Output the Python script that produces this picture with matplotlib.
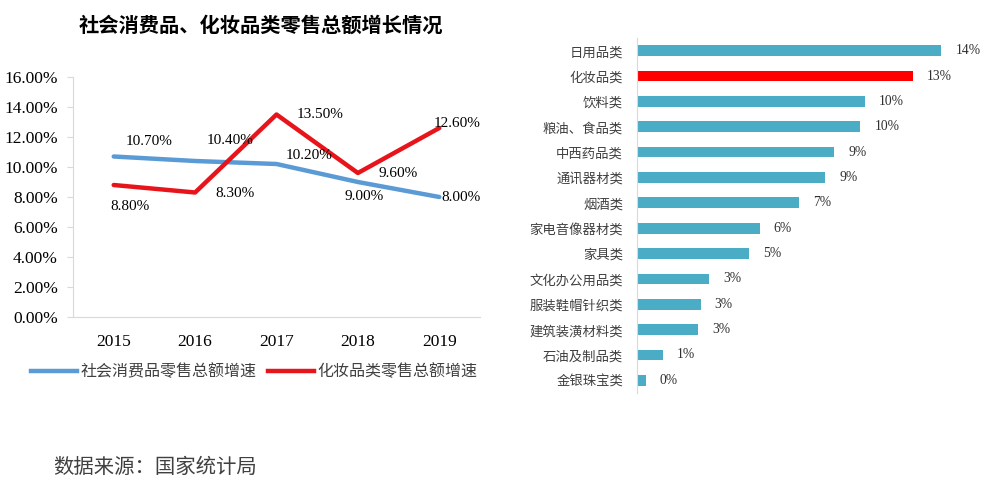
import matplotlib
matplotlib.use("Agg")
import matplotlib.pyplot as plt
from matplotlib.lines import Line2D

years = ["2015", "2016", "2017", "2018", "2019"]
retail_growth = [10.7, 10.4, 10.2, 9.0, 8.0]
cosmetics_growth = [8.8, 8.3, 13.5, 9.6, 12.6]

categories = ["日用品类", "化妆品类", "饮料类", "粮油、食品类", "中西药品类", "通讯器材类",
              "烟酒类", "家电音像器材类", "家具类", "文化办公用品类", "服装鞋帽针织类",
              "建筑装潢材料类", "石油及制品类", "金银珠宝类"]
category_growth = [13.9, 12.6, 10.4, 10.2, 9.0, 8.6, 7.4, 5.6, 5.1, 3.3, 2.9, 2.8, 1.2, 0.4]

CJK = ["Noto Sans CJK SC", "DejaVu Sans"]
SERIF = ["Liberation Serif", "DejaVu Serif"]

W, H = 988, 487
fig = plt.figure(figsize=(W / 100, H / 100), dpi=100)

# ---------- line chart ----------
ax = fig.add_axes([73 / W, 1 - 317 / H, (480 - 73) / W, (317 - 77) / H])
x = list(range(len(years)))
blue = "#5B9BD5"
red = "#E8141B"
ax.plot(x, [v / 100 for v in retail_growth], color=blue, lw=3.2, solid_capstyle="round", zorder=2)
ax.plot(x, [v / 100 for v in cosmetics_growth], color=red, lw=3.2, solid_capstyle="round", zorder=3)
ax.set_xlim(-0.5, len(years) - 0.5)
ax.set_ylim(0, 0.16)
ax.set_yticks([i * 0.02 for i in range(9)])
ax.set_yticklabels([f"{i * 2:.2f}%" for i in range(9)], fontfamily=SERIF, fontsize=12.5)
ax.set_xticks(x)
ax.set_xticklabels(years, fontfamily=SERIF, fontsize=12.5)
for s in ["top", "right"]:
    ax.spines[s].set_visible(False)
for s in ["left", "bottom"]:
    ax.spines[s].set_color("#D9D9D9")
ax.tick_params(axis="y", length=4, color="#D9D9D9", pad=7)
ax.tick_params(axis="x", length=0, pad=12)

blue_off = [(35, 15), (35, 21), (33, 9), (6, -14), (22, 0)]
red_off = [(16, -21), (40, -1), (44, 0), (40, 0), (18, 5)]
for i, v in enumerate(retail_growth):
    ax.annotate(f"{v:.2f}%", (i, v / 100), xytext=blue_off[i], textcoords="offset pixels",
                ha="center", va="center", fontfamily=SERIF, fontsize=11, zorder=5)
for i, v in enumerate(cosmetics_growth):
    ax.annotate(f"{v:.2f}%", (i, v / 100), xytext=red_off[i], textcoords="offset pixels",
                ha="center", va="center", fontfamily=SERIF, fontsize=11, zorder=5)

handles = [Line2D([], [], color=blue, lw=3.2), Line2D([], [], color=red, lw=3.2)]
fig.legend(handles, ["社会消费品零售总额增速", "化妆品类零售总额增速"],
           loc="center", bbox_to_anchor=(254 / W, 1 - 372 / H), ncol=2, frameon=False,
           prop={"family": CJK, "size": 11.5}, handlelength=2.9, handletextpad=0.2,
           columnspacing=0.7, labelcolor="#404040")

fig.text(261 / W, 1 - 25 / H, "社会消费品、化妆品类零售总额增长情况", ha="center", va="center",
         fontfamily=CJK, fontsize=14.6, fontweight="bold")
fig.text(53 / W, 1 - 467 / H, "数据来源：国家统计局", ha="left", va="center",
         fontfamily=CJK, fontsize=14.7, color="#404040")

# ---------- bar chart ----------
bx = fig.add_axes([637 / W, 1 - 393 / H, (985 - 637) / W, (393 - 38) / H])
y = list(range(len(categories)))
colors = ["#FF0000" if c == "化妆品类" else "#4BACC6" for c in categories]
bx.barh(y, category_growth, height=0.42, color=colors)
bx.set_ylim(len(categories) - 0.5, -0.5)
bx.set_xlim(0, 348 / 21.9)
bx.set_yticks(y)
bx.set_yticklabels(categories, fontfamily=CJK, fontsize=9.6, color="#404040")
bx.set_xticks([])
for s in ["top", "right", "bottom"]:
    bx.spines[s].set_visible(False)
bx.spines["left"].set_color("#D9D9D9")
bx.tick_params(axis="y", length=0, pad=10)
for i, v in enumerate(category_growth):
    bx.annotate(f"{v:.0f}%", (v, i), xytext=(14, 0), textcoords="offset pixels",
                ha="left", va="center", fontfamily=SERIF, fontsize=9.8, color="#303030")

fig.savefig("out.png", dpi=100)
